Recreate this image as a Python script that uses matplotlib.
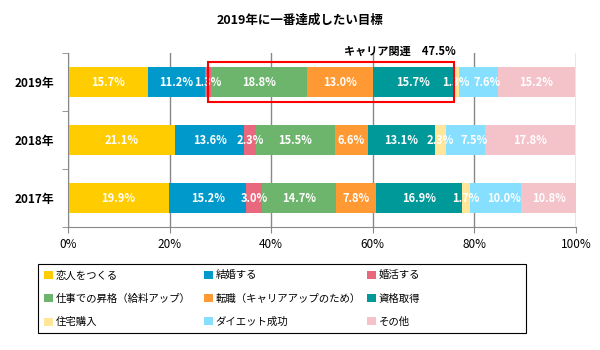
import numpy as np
import matplotlib.pyplot as plt
from matplotlib.patches import Patch, Rectangle

plt.rcParams['font.family'] = ['Noto Sans CJK JP', 'DejaVu Sans']

# data
years = ["2019年", "2018年", "2017年"]
goals = ["恋人をつくる", "結婚する", "婚活する", "仕事での昇格（給料アップ）",
         "転職（キャリアアップのため）", "資格取得", "住宅購入", "ダイエット成功", "その他"]
v2019 = [15.7, 11.2, 1.3, 18.8, 13.0, 15.7, 1.3, 7.6, 15.2]
v2018 = [21.1, 13.6, 2.3, 15.5, 6.6, 13.1, 2.3, 7.5, 17.8]
v2017 = [19.9, 15.2, 3.0, 14.7, 7.8, 16.9, 1.7, 10.0, 10.8]
career_idx = [3, 4, 5]  # career related goals
colors = ["#FFCC00", "#0099CC", "#E8697D", "#6DB56D", "#FF9933",
          "#009999", "#FFE699", "#87DFFF", "#F4C2C9"]

values = np.array([v2019, v2018, v2017])

fig = plt.figure(figsize=(6, 3.5), dpi=100)
ax = fig.add_axes([68/600, 1 - 227/350, 508/600, 174/350])

y = np.arange(len(years))
left = np.zeros(len(years))
for i, g in enumerate(goals):
    ax.barh(y, values[:, i], left=left, height=0.52, color=colors[i], zorder=2)
    # diet labels are nudged right in the original to clear the small ones
    dx = 6 if g == "ダイエット成功" else 0
    for j in range(len(years)):
        ax.annotate(f"{values[j, i]:.1f}%", (left[j] + values[j, i] / 2, y[j]),
                    xytext=(dx, 0), textcoords="offset points",
                    ha="center", va="center", color="white", fontsize=8,
                    fontweight="bold", zorder=4)
    left += values[:, i]

# career related box on 2019
start = sum(v2019[:career_idx[0]])
career = sum(v2019[k] for k in career_idx)
ax.add_patch(Rectangle((start - 0.6, -0.34), career + 0.9, 0.69, fill=False,
                       edgecolor="red", linewidth=1.5, zorder=5, clip_on=False))
ax.text(65.3, -0.53, f"キャリア関連　{career:.1f}%", ha="center", va="center",
        fontsize=8, fontweight="bold")

ax.set_xlim(0, 100)
ax.set_ylim(2.5, -0.5)
ax.set_xticks(np.arange(0, 101, 20))
ax.set_xticklabels([f"{t}%" for t in range(0, 101, 20)], fontsize=8.5)
ax.set_yticks(y)
ax.set_yticklabels(years, fontsize=8.5, fontweight="bold")
ax.tick_params(axis="y", which="major", length=0, pad=10)
ax.set_yticks([-0.5, 0.5, 1.5, 2.5], minor=True)
ax.tick_params(axis="y", which="minor", length=4, color="#888888")
ax.tick_params(axis="x", length=4, color="#888888", pad=4)
ax.xaxis.grid(True, color="#888888", linewidth=1)
ax.set_axisbelow(True)
for s in ["top", "right"]:
    ax.spines[s].set_visible(False)
for s in ["left", "bottom"]:
    ax.spines[s].set_color("#888888")

fig.text(0.5, 1 - 20/350, "2019年に一番達成したい目標", ha="center", va="center",
         fontsize=9, fontweight="bold")

# legend: three fixed columns, filled row-wise
handles = [Patch(facecolor=c) for c in colors]
col_x = [40, 200, 363]
for c in range(3):
    fig.legend(handles[c::3], goals[c::3], loc="upper left",
               bbox_to_anchor=(col_x[c]/600, 1 - 266/350),
               fontsize=7.5, frameon=False, handlelength=0.8, handleheight=0.8,
               handletextpad=0.3, labelspacing=1.28, borderaxespad=0)
fig.patches.append(Rectangle((38/600, 1 - 333/350), 488/600, 69/350, fill=False,
                             edgecolor="black", linewidth=0.8,
                             transform=fig.transFigure, figure=fig))

fig.savefig("out.png", dpi=100)
